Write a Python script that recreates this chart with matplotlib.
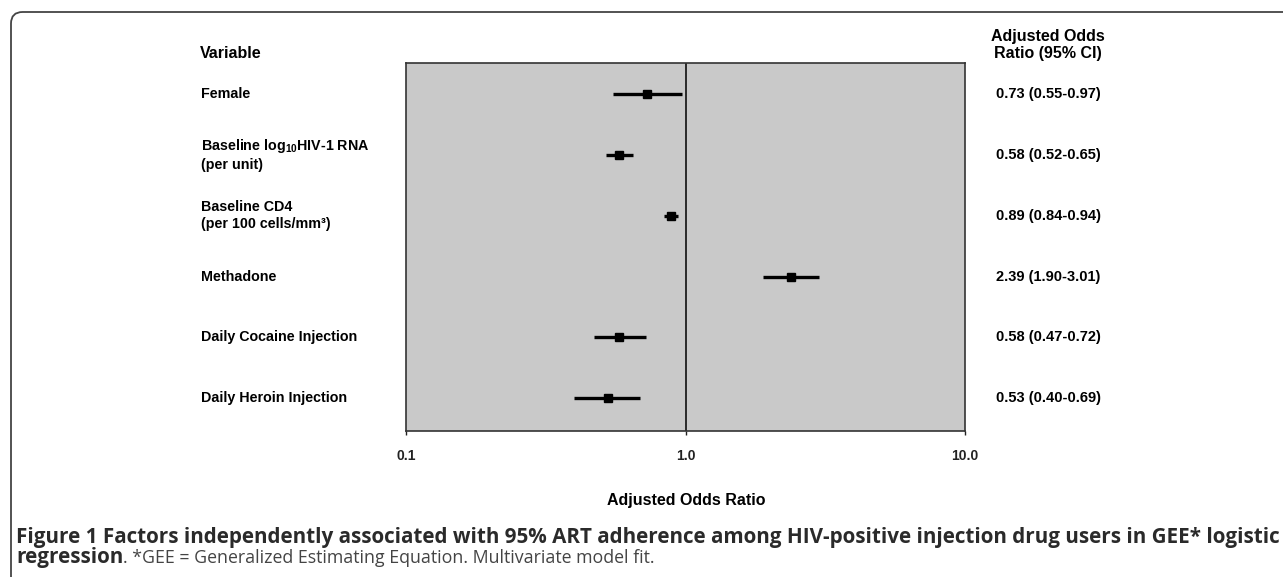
import numpy as np
import matplotlib.pyplot as plt
from matplotlib.patches import FancyBboxPatch
from matplotlib.transforms import blended_transform_factory

plt.rcParams['font.family'] = ['Liberation Sans', 'DejaVu Sans']
plt.rcParams['mathtext.fontset'] = 'custom'
plt.rcParams['mathtext.rm'] = 'Liberation Sans:bold'
plt.rcParams['mathtext.bf'] = 'Liberation Sans:bold'

variables = ['Female',
             'Baseline log$_{10}$HIV-1 RNA\n(per unit)',
             'Baseline CD4\n(per 100 cells/mm³)',
             'Methadone',
             'Daily Cocaine Injection',
             'Daily Heroin Injection']
odds = [0.73, 0.58, 0.89, 2.39, 0.58, 0.53]
ci_low = [0.55, 0.52, 0.84, 1.90, 0.47, 0.40]
ci_high = [0.97, 0.65, 0.94, 3.01, 0.72, 0.69]
ticks = [0.1, 1.0, 10.0]
tick_labels = ['0.1', '1.0', '10.0']

W, H = 1283, 577
fig = plt.figure(figsize=(W / 100, H / 100), dpi=100)

# page frame with rounded corner
frame = FancyBboxPatch((11 / W, -0.2), 1.2, 1 - 12 / H + 0.2,
                       boxstyle='round,pad=0,rounding_size=0.009',
                       transform=fig.transFigure, fill=False,
                       edgecolor='#444444', linewidth=1.3,
                       mutation_aspect=W / H)
fig.patches.append(frame)

ax = fig.add_axes([406 / W, 1 - 431 / H, 559 / W, 368 / H])
ax.set_facecolor('#c9c9c9')
ax.set_xscale('log')
ax.set_xlim(0.1, 10)
ax.set_ylim(5.54, -0.51)

y = np.arange(len(variables))
ax.axvline(1.0, color='black', linewidth=1.1)
ax.hlines(y, ci_low, ci_high, color='black', linewidth=2.4)
ax.plot(odds, y, 's', color='black', markersize=5.5)

ax.set_xticks(ticks)
ax.set_xticklabels(tick_labels, fontweight='bold', fontsize=10)
ax.minorticks_off()
ax.tick_params(axis='x', direction='out', length=3, width=1, pad=10, colors='#222222')
ax.set_yticks([])
for s in ax.spines.values():
    s.set_color('#333333')
    s.set_linewidth(1.2)

tr = blended_transform_factory(ax.transAxes, ax.transData)
for i, name in enumerate(variables):
    ax.text(-0.3667, i, name, transform=tr, ha='left', va='center',
            fontsize=10.3, fontweight='bold', linespacing=1.25)
    ax.text(1.1485, i, f'{odds[i]:.2f} ({ci_low[i]:.2f}-{ci_high[i]:.2f})',
            transform=tr, ha='center', va='center', fontsize=10.5, fontweight='bold')

fig.text(200 / W, 1 - 54 / H, 'Variable', ha='left', va='center',
         fontsize=11.5, fontweight='bold')
fig.text(1048 / W, 1 - 45 / H, 'Adjusted Odds\nRatio (95% CI)', ha='center',
         va='center', fontsize=11.5, fontweight='bold', linespacing=1.2)
fig.text(686 / W, 1 - 500 / H, 'Adjusted Odds Ratio', ha='center', va='center',
         fontsize=11.5, fontweight='bold')

# caption
cap1 = ('Figure 1 Factors independently associated with 95% ART adherence '
        'among HIV-positive injection drug users in GEE* logistic')
t1 = fig.text(16 / W, 1 - 537 / H, cap1, ha='left', va='center', fontsize=13,
              fontweight='bold', family='Open Sans', color='#2a2a2a')
fig.canvas.draw()
r = fig.canvas.get_renderer()
w = t1.get_window_extent(r).width
fs = 13 * 1258 / w
t1.set_fontsize(fs)
t2 = fig.text(16 / W, 1 - 558 / H, 'regression', ha='left', va='center',
              fontsize=fs, fontweight='bold', family='Open Sans', color='#2a2a2a')
fig.canvas.draw()
x2 = t2.get_window_extent(r).x1
fig.text(x2 / W, 1 - 558 / H, '. *GEE = Generalized Estimating Equation. Multivariate model fit.',
         ha='left', va='center', fontsize=fs * 0.86, family='Open Sans', color='#444444')

fig.savefig('out.png', dpi=100)
